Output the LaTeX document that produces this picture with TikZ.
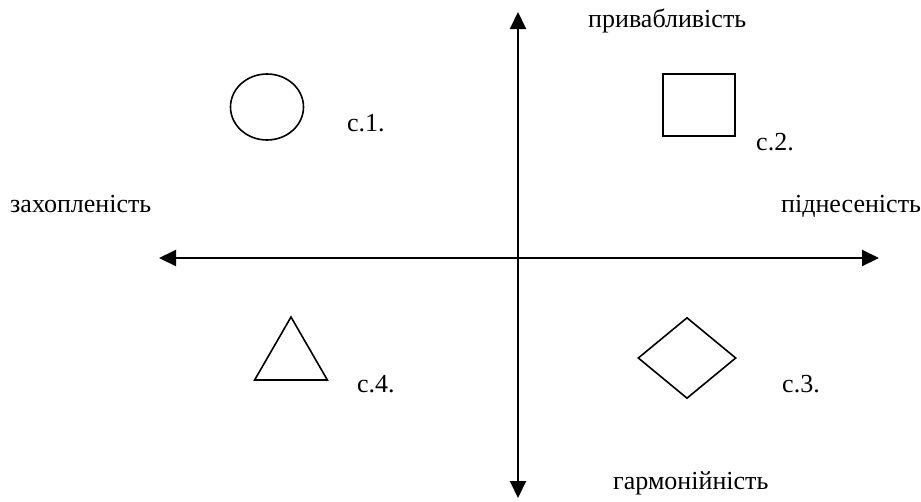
\documentclass[tikz,border=0pt]{standalone}
\usepackage{fontspec}
\setmainfont{Liberation Serif}
\usetikzlibrary{arrows.meta,shapes.geometric}

\begin{document}
\begin{tikzpicture}[x=1pt, y=-1pt, font=\fontsize{26}{30}\selectfont,
    axis/.style={line width=2pt, {Triangle[length=17pt,width=16pt]}-{Triangle[length=17pt,width=16pt]}},
    figure/.style={draw, line width=1.6pt, inner sep=0pt},
    word/.style={anchor=base west, inner sep=0pt}]
    \useasboundingbox (0,0) rectangle (921,501);
    % axes
    \coordinate (top) at (518,12);
    \coordinate (bottom) at (518,498);
    \coordinate (left) at (159,258);
    \coordinate (right) at (879,258);
    \draw[axis] (top) -- (bottom);
    \draw[axis] (left) -- (right);
    \node[word] (up) at (588,27) {привабливість};
    \node[word] (west) at (10,212) {захопленість};
    \node[word] (east) at (781,212) {піднесеність};
    \node[word] (down) at (613,489) {гармонійність};
    % figures
    \node[figure, ellipse, minimum width=73pt, minimum height=66pt] (s1) at (267,107) {};
    \node[figure, rectangle, minimum width=72pt, minimum height=62pt] (s2) at (699,105) {};
    \node[figure, diamond, minimum width=98pt, minimum height=81pt] (s3) at (687,358) {};
    \node[figure, regular polygon, regular polygon sides=3, minimum size=84pt] (s4) at (291,359) {};
    \node[word] (l1) at (347,131) {с.1.};
    \node[word] (l2) at (756,150) {с.2.};
    \node[word] (l3) at (782,392) {с.3.};
    \node[word] (l4) at (357,392) {с.4.};
\end{tikzpicture}
\end{document}
